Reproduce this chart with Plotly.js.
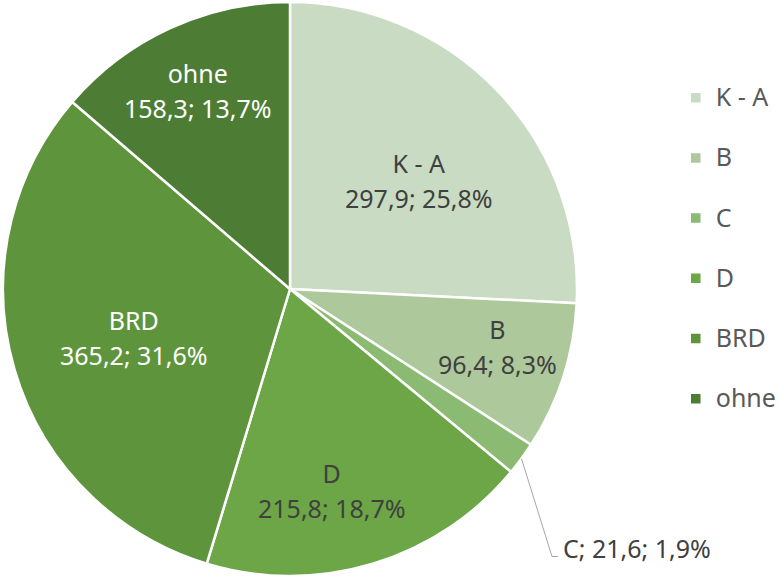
<!DOCTYPE html>
<html>
<head>
<meta charset="utf-8">
<script src="https://cdn.plot.ly/plotly-3.0.1.min.js"></script>
<style>html,body{margin:0;padding:0;background:#fff;}#chart{width:779px;height:576px;}</style>
</head>
<body>
<div id="chart"></div>
<script>
const categories = ['K - A', 'B', 'C', 'D', 'BRD', 'ohne'];
const values = [297.9, 96.4, 21.6, 215.8, 365.2, 158.3];
const colors = ['#c9dbc2', '#adc99c', '#8bbb72', '#6ca646', '#5e953c', '#4d7c34'];
const textColors = ['#404040', '#404040', '#404040', '#404040', '#ffffff', '#ffffff'];
// label placement (style): fraction of radius and angle tweak (deg) per slice
const labelRadius = [0.588, 0.752, null, 0.715, 0.570, 0.765];
const labelAngleShift = [3.4, -2.3, 0, 5.2, -0.9, -0.35];
const outsideIndex = 2; // "C" is labelled outside with a leader line

const W = 779, H = 576;
const total = values.reduce((a, b) => a + b, 0);
const de = v => v.toFixed(1).replace('.', ',');
const pctText = i => de(values[i] / total * 100) + '%';
const S = t => "<span style='font-size:25px'>" + t + "</span>";
const legendLabels = categories.map(c => S(c) + "<br> ");

// pie geometry (pixels) from the domain
const domX = [0.00385, 0.7407], domY = [0, 0.9965];
const cx = (domX[0] + domX[1]) / 2 * W;
const cy = H - (domY[0] + domY[1]) / 2 * H;
const R = Math.min((domX[1] - domX[0]) * W, (domY[1] - domY[0]) * H) / 2;
const px = x => x / W, py = y => 1 - y / H;

const midAngles = [];
let acc = 0;
values.forEach(v => { midAngles.push(2 * Math.PI * (acc + v / 2) / total); acc += v; });

const annotations = [];
categories.forEach((c, i) => {
  if (i === outsideIndex) return;
  const a = midAngles[i] + labelAngleShift[i] * Math.PI / 180;
  const r = labelRadius[i] * R;
  annotations.push({
    xref: 'paper', yref: 'paper',
    x: px(cx + r * Math.sin(a)), y: py(cy - r * Math.cos(a)),
    xanchor: 'center', yanchor: 'middle', align: 'center',
    showarrow: false,
    text: S(c) + '<br>' + S(de(values[i]) + '; ' + pctText(i)),
    font: { family: 'Noto Sans', size: 27, color: textColors[i] }
  });
});

// leader line for the outside label, starting at the slice's mid-angle edge
const sx = cx + R * Math.sin(midAngles[outsideIndex]), sy = cy - R * Math.cos(midAngles[outsideIndex]);
const elbow = [552, 556.5], lineEnd = [558, 556.5];
annotations.push({
  xref: 'paper', yref: 'paper',
  x: px(561), y: py(548), xanchor: 'left', yanchor: 'middle',
  showarrow: false,
  text: categories[outsideIndex] + '; ' + de(values[outsideIndex]) + '; ' + pctText(outsideIndex),
  font: { family: 'Noto Sans', size: 25, color: '#404040' }
});

const trace = {
  type: 'pie',
  labels: legendLabels,
  values: values,
  textinfo: 'none',
  sort: false,
  direction: 'clockwise',
  rotation: 0,
  marker: { colors: colors, line: { color: '#ffffff', width: 2.5 } },
  domain: { x: domX, y: domY },
  hoverinfo: 'none'
};

const layout = {
  width: W,
  height: H,
  margin: { l: 0, r: 0, t: 0, b: 0, autoexpand: false },
  paper_bgcolor: '#ffffff',
  showlegend: true,
  legend: {
    x: 0.8675, xanchor: 'left',
    y: 0.8665, yanchor: 'top',
    valign: 'top',
    font: { family: 'Noto Sans', size: 22, color: '#595959' },
    bgcolor: 'rgba(0,0,0,0)'
  },
  shapes: [{
    type: 'path', xref: 'paper', yref: 'paper',
    path: 'M' + px(sx) + ',' + py(sy) + ' L' + px(elbow[0]) + ',' + py(elbow[1]) +
          ' L' + px(lineEnd[0]) + ',' + py(lineEnd[1]),
    line: { color: '#a6a6a6', width: 1 }
  }],
  annotations: annotations
};

Plotly.newPlot('chart', [trace], layout, { displayModeBar: false, staticPlot: true });
</script>
</body>
</html>
